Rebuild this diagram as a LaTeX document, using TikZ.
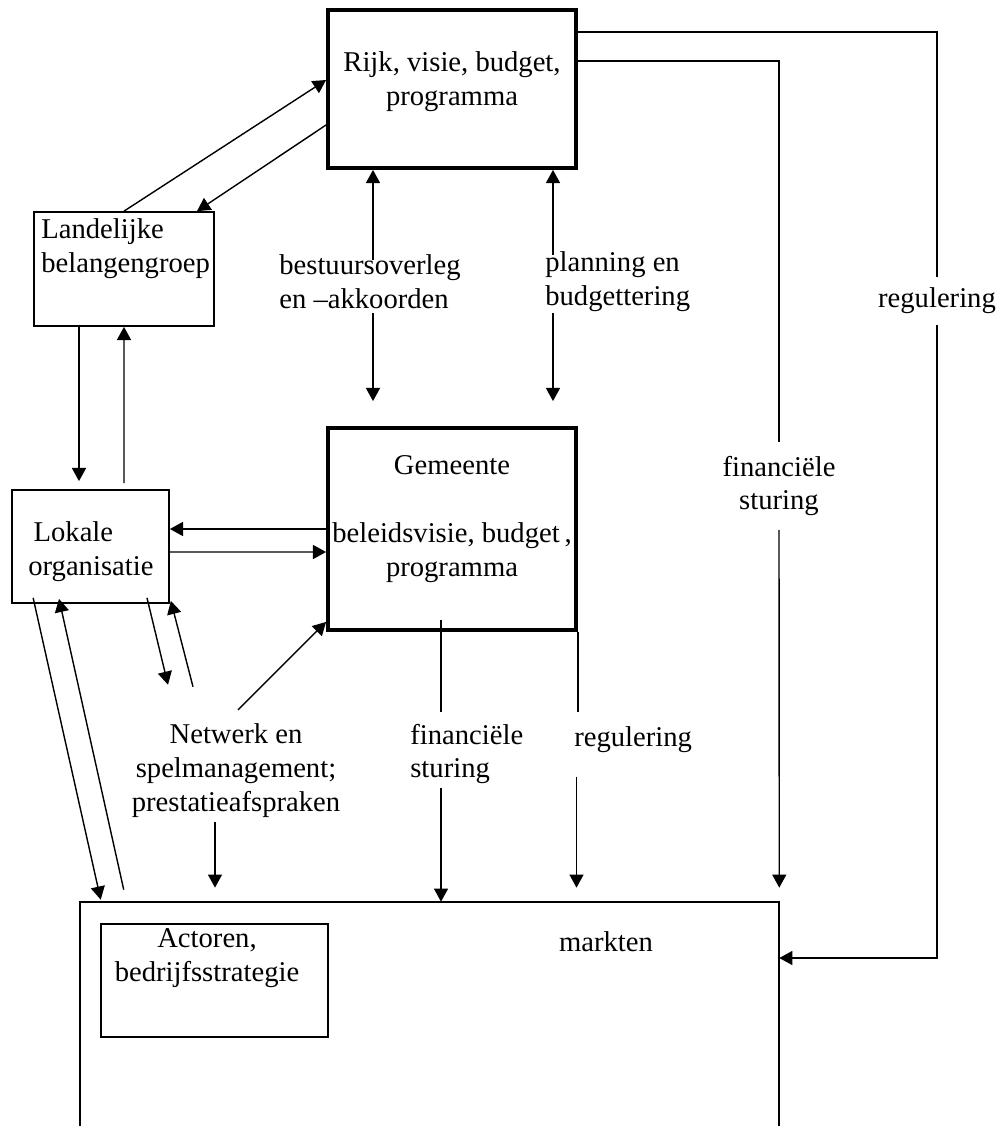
\documentclass[tikz,border=0pt]{standalone}
\usepackage{fontspec}
\setmainfont{Liberation Serif}
\usetikzlibrary{arrows.meta,positioning,calc}

\begin{document}
\begin{tikzpicture}[x=0.02cm, y=-0.02cm,
  font=\fontsize{16.3}{19.3}\selectfont,
  bigbox/.style={rectangle, draw, line width=2.2pt, inner sep=0pt},
  smallbox/.style={rectangle, draw, line width=1pt, inner sep=0pt},
  txt/.style={inner sep=0pt, align=center},
  conn/.style={line width=0.8pt},
  arr/.style={conn, -{Triangle[length=7.5pt, width=8pt]}},
  darr/.style={conn, {Triangle[length=7.5pt, width=8pt]}-}]
\useasboundingbox (0,0) rectangle (998,1126);
% boxes
\node[bigbox, minimum width=4.96cm, minimum height=3.16cm] (rijk) at (452,89) {};
\node[bigbox, minimum width=4.96cm, minimum height=4.04cm] (gem) at (452,529) {};
\node[smallbox, minimum width=3.6cm, minimum height=2.28cm] (land) at (124,269) {};
\node[smallbox, minimum width=3.14cm, minimum height=2.26cm] (lok) at (90.5,546.5) {};
\node[smallbox, minimum width=4.54cm, minimum height=2.26cm] (actor) at (214.5,980.5) {};
\node[inner sep=0pt, minimum width=13.98cm, minimum height=4.48cm] (markt) at (429.5,1014) {};
\draw[line width=1pt] (markt.south west) |- (markt.north east) -- (markt.south east);
% box texts
\node[txt] (rijktxt) at (452,82) {Rijk, visie, budget,\\programma};
\node[txt, align=left, anchor=west] (landtxt) at (41,249) {Landelijke\\belangengroep};
\node[txt, align=left, anchor=west] (loktxt) at (28,552) {\hspace*{3pt}Lokale\\organisatie};
\node[txt] (gemtxt) at (452,519) {Gemeente\\[19.3pt]beleidsvisie, budget\,,\\programma};
\node[txt] (actortxt) at (207,958) {Actoren,\\bedrijfsstrategie};
\node[txt] (markttxt) at (606,942) {markten};
% labels
\node[txt, align=left, anchor=west] (bestuur) at (279,282) {bestuursoverleg\\en –akkoorden};
\node[txt, align=left, anchor=west] (plan) at (545,282) {planning en\\budgettering};
\node[txt, inner ysep=0.22cm] (regul1) at (937,301) {regulering};
\node[txt, inner ysep=0.27cm] (fin1) at (779,486) {financiële\\sturing};
\node[txt, align=left, anchor=west] (fin2) at (410,754) {financiële\\sturing};
\node[txt, anchor=west] (regul2) at (574,740) {regulering};
\node[txt] (netw) at (236,771) {Netwerk en\\spelmanagement;\\prestatieafspraken};
% rijk - landelijke
\draw[arr] (land.north) -- ($(rijk.west)+(0,-9)$);
\draw[arr] ($(rijk.west)+(0,36)$) -- ($(land.north)+(73,0)$);
% landelijke - lokale
\draw[arr] ($(land.south)+(-45,0)$) -- ($(lok.north)+(-11.5,-8)$);
\draw[arr] ($(lok.north)+(33.5,-6)$) -- (land.south);
% rijk - gemeente
\draw[darr] ($(rijk.south)+(-79,0)$) -- ($(rijk.south)+(-79,90)$);
\draw[arr] ($(gem.north)+(-79,-113)$) -- ($(gem.north)+(-79,-25)$);
\draw[darr] ($(rijk.south)+(101,0)$) -- ($(rijk.south)+(101,85)$);
\draw[arr] ($(gem.north)+(101,-113)$) -- ($(gem.north)+(101,-25)$);
% rijk - markten
\draw[conn] ($(rijk.east)+(0,-57)$) -| (regul1.north);
\draw[arr] (regul1.south) |- ($(markt.east)+(0,-56)$);
\draw[conn] ($(rijk.east)+(0,-28)$) -| (fin1.north);
\draw[arr] (fin1.south) -- ($(markt.north east)+(0,-14)$);
% gemeente - lokale
\draw[arr] (gem.west) -- (gem.west -| lok.east);
\draw[arr] ($(lok.east)+(0,5.5)$) -- ($(gem.west)+(0,23)$);
% gemeente - markten
\draw[conn] ($(gem.south)+(-11,-12)$) -- ($(gem.south)+(-11,80)$);
\draw[arr] ($(markt.north)+(11.5,-114)$) -- ($(markt.north)+(11.5,0)$);
\draw[conn] (gem.south east) -- ($(gem.south east)+(0,80)$);
\draw[arr] ($(markt.north)+(147,-125)$) -- ($(markt.north)+(147,-14)$);
% netwerk
\draw[arr] ($(netw.north)+(2,-14)$) -- ($(gem.south west)+(0,-10)$);
\draw[arr] ($(netw.south)+(-21,4)$) -- ($(markt.north)+(-214.5,-14)$);
% lokale - netwerk
\draw[arr] ($(lok.south)+(56.5,-6)$) -- ($(netw.north)+(-68,-39)$);
\draw[arr] ($(netw.north)+(-43,-37)$) -- ($(lok.south east)+(1,-3)$);
% lokale - markten
\draw[arr] ($(lok.south west)+(22,-6)$) -- ($(markt.north west)+(21,-2)$);
\draw[arr] ($(markt.north west)+(44,-12)$) -- ($(lok.south)+(-31.5,-5)$);
\end{tikzpicture}
\end{document}
